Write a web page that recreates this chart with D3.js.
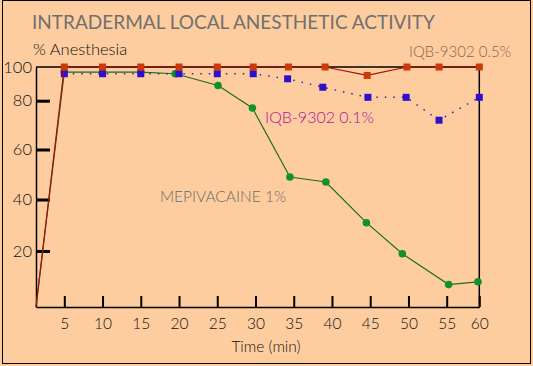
<!DOCTYPE html>
<html>
<head>
<meta charset="utf-8">
<script src="https://cdn.jsdelivr.net/npm/d3@7"></script>
<style>
  body { margin: 0; background: #fecd9f; }
  svg { display: block; }
  text { font-family: "Lato", "DejaVu Sans", sans-serif; font-weight: 300; }
  .y-axis .domain, .x-axis .domain { stroke: #000; stroke-width: 1.5; }
</style>
</head>
<body>
<div id="chart"></div>
<script>
// data
const xTicks = [5, 10, 15, 20, 25, 30, 35, 40, 45, 50, 55, 60];
const yTicks = [20, 40, 60, 80, 100];

// IQB-9302 0.5%
const redTimes  = [0, 5, 10, 15, 20, 25, 29.7, 34.3, 39.1, 44.6, 49.8, 54, 60];
const redValues = [0, 100, 100, 100, 100, 100, 100, 100, 100, 95, 100, 100, 100];

// IQB-9302 0.1%
const blueTimes  = [5, 10, 15, 20, 25, 29.7, 34.2, 38.8, 44.7, 49.7, 54, 60];
const blueValues = [96, 96, 96, 96, 96, 96, 93, 88, 82, 82, 72, 82];

// MEPIVACAINE 1%
const greenTimes  = [0, 5, 10, 15, 19.5, 25.1, 29.6, 34.5, 39.2, 44.5, 49.2, 55.3, 59.8];
const greenValues = [0, 97, 97, 97, 96, 89, 77, 49, 47, 31, 19, 8, 9];

const width = 533, height = 366;

const svg = d3.select("#chart").append("svg")
  .attr("width", width)
  .attr("height", height);

svg.append("rect")
  .attr("x", 0).attr("y", 0)
  .attr("width", width).attr("height", height)
  .attr("fill", "#fecd9f");

svg.append("rect")
  .attr("x", 2.5).attr("y", 0.5)
  .attr("width", 528).attr("height", 363)
  .attr("fill", "none")
  .attr("stroke", "#000");

// the original axes are not evenly spaced, so piecewise scales
const x = d3.scaleLinear()
  .domain([0, 5, 55, 60])
  .range([36, 64.3, 446.7, 479.3]);

const y = d3.scaleLinear()
  .domain([0, 20, 40, 60, 80, 100])
  .range([307, 251, 199.5, 149.5, 100.7, 67]);

// title + labels
svg.append("text")
  .attr("x", 32).attr("y", 28.5)
  .attr("font-size", 19)
  .style("font-weight", 400)
  .attr("fill", "#707070")
  .text("INTRADERMAL LOCAL ANESTHETIC ACTIVITY");

svg.append("text")
  .attr("x", 33).attr("y", 55)
  .attr("font-size", 16.5)
  .attr("fill", "#111")
  .text("% Anesthesia");

// frame (top and right)
svg.append("path")
  .attr("d", `M${x(0)},${y(100)}H${x(60)}V${y(0)}`)
  .attr("fill", "none")
  .attr("stroke", "#000")
  .attr("stroke-width", 1.5);

// axes
const yAxis = svg.append("g")
  .attr("class", "y-axis")
  .attr("transform", `translate(${x(0)},0)`)
  .call(d3.axisLeft(y).tickValues(yTicks).tickSize(-14).tickPadding(4).tickSizeOuter(0));

yAxis.selectAll(".tick line")
  .attr("stroke", "#000")
  .attr("stroke-width", 3)
  .attr("display", d => d === 100 ? "none" : null);
yAxis.selectAll(".tick text")
  .attr("font-size", 16.5)
  .attr("fill", "#111");

const xAxis = svg.append("g")
  .attr("class", "x-axis")
  .attr("transform", `translate(0,${y(0)})`)
  .call(d3.axisBottom(x).tickValues(xTicks).tickSize(-11).tickPadding(11).tickSizeOuter(0));

xAxis.selectAll(".tick line")
  .attr("stroke", "#000")
  .attr("stroke-width", 2);
xAxis.selectAll(".tick text")
  .attr("font-size", 15.5)
  .attr("fill", "#111");

svg.append("text")
  .attr("x", 266).attr("y", 352)
  .attr("text-anchor", "middle")
  .attr("font-size", 15.5)
  .attr("fill", "#111")
  .text("Time (min)");

const line = d3.line()
  .x(d => x(d[0]))
  .y(d => y(d[1]));

const green = d3.zip(greenTimes, greenValues);
const blue = d3.zip(blueTimes, blueValues);
const red = d3.zip(redTimes, redValues);

// MEPIVACAINE 1%
svg.append("path")
  .attr("d", line(green))
  .attr("fill", "none")
  .attr("stroke", "#1d6e1d")
  .attr("stroke-width", 1.2);

svg.selectAll(".green-dot")
  .data(green.slice(1))
  .enter()
  .append("circle")
  .attr("class", "green-dot")
  .attr("cx", d => x(d[0]))
  .attr("cy", d => y(d[1]))
  .attr("r", 3.8)
  .attr("fill", "#12902a");

// IQB-9302 0.1%
svg.append("path")
  .attr("d", line(blue))
  .attr("fill", "none")
  .attr("stroke", "#3a1cc0")
  .attr("stroke-width", 1.5)
  .attr("stroke-dasharray", "1.5,7");

svg.selectAll(".blue-sq")
  .data(blue)
  .enter()
  .append("rect")
  .attr("class", "blue-sq")
  .attr("x", d => x(d[0]) - 3.5)
  .attr("y", d => y(d[1]) - 3.5)
  .attr("width", 7).attr("height", 7)
  .attr("fill", "#2e10cc");

// IQB-9302 0.5%
svg.append("path")
  .attr("d", line(red))
  .attr("fill", "none")
  .attr("stroke", "#a80c0c")
  .attr("stroke-width", 1.2);

svg.selectAll(".red-sq")
  .data(red.slice(1))
  .enter()
  .append("rect")
  .attr("class", "red-sq")
  .attr("x", d => x(d[0]) - 3.5)
  .attr("y", d => y(d[1]) - 3.5)
  .attr("width", 7).attr("height", 7)
  .attr("fill", "#cc3a0a");

// series labels
svg.append("text")
  .attr("x", 409).attr("y", 57)
  .attr("font-size", 15)
  .attr("fill", "#8c6450")
  .text("IQB-9302 0.5%");

svg.append("text")
  .attr("x", 265).attr("y", 123)
  .attr("font-size", 16)
  .attr("fill", "#b0109c")
  .text("IQB-9302 0.1%");

svg.append("text")
  .attr("x", 160).attr("y", 202)
  .attr("font-size", 15.5)
  .attr("fill", "#6a6a6a")
  .text("MEPIVACAINE 1%");
</script>
</body>
</html>
